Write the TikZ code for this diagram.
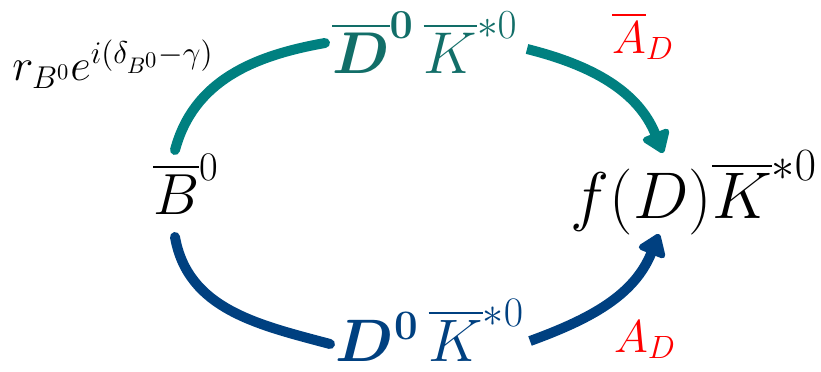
\RequirePackage{fix-cm}
\documentclass[tikz,border=0pt]{standalone}
\usepackage{amsmath,bm}
\usetikzlibrary{arrows.meta}
\definecolor{tealA}{RGB}{0,128,128}
\definecolor{tealT}{RGB}{18,110,104}
\definecolor{navyA}{RGB}{0,64,128}
\definecolor{redL}{RGB}{255,0,0}
\tikzset{
  lbl/.style={inner sep=0pt, anchor=base},
  conn/.style={line width=5pt},
  head/.style={-{Triangle[width=16pt,length=12pt,round]}},
}
\begin{document}
\begin{tikzpicture}[x=0.5pt,y=-0.5pt]
\useasboundingbox (0,0) rectangle (821,371);
\node[lbl,font=\fontsize{29}{34}\selectfont] (B) at (186,214) {$\overline{B}^{0}$};
\node[lbl,font=\fontsize{33}{38}\selectfont] (F) at (694,218) {$f(D)\overline{K}^{*0}$};
\node[lbl,font=\fontsize{29.5}{34}\selectfont,text=tealT] (T) at (425,73) {$\boldsymbol{\overline{D}^{0}}\,\overline{K}^{*0}$};
\node[lbl,font=\fontsize{30}{34}\selectfont,text=navyA] (L) at (430,361) {$\boldsymbol{D^{0}}\,\overline{K}^{*0}$};
\node[lbl,font=\fontsize{22.5}{26}\selectfont] (r) at (113,80) {$r_{B^0}e^{i(\delta_{B^0}-\gamma)}$};
\node[lbl,font=\fontsize{23}{26}\selectfont,text=redL] (Ab) at (643,53) {$\overline{A}_D$};
\node[lbl,font=\fontsize{23}{26}\selectfont,text=redL] (A) at (645,352) {$A_D$};
\coordinate (b1) at (175,150);
\coordinate (t1) at (325,43);
\coordinate (t2) at (527,49);
\coordinate (f1) at (663,153);
\coordinate (b2) at (175,237);
\coordinate (l1) at (330,344);
\coordinate (l2) at (530,341);
\coordinate (f2) at (659,234);
\draw[conn,tealA,line cap=round] (b1) to[out=75,in=190] (t1);
\draw[conn,tealA,head] (t2) to[out=-14,in=112] (f1);
\draw[conn,navyA,line cap=round] (b2) to[out=-80,in=165] (l1);
\draw[conn,navyA,head] (l2) to[out=20,in=-112] (f2);
\end{tikzpicture}
\end{document}
